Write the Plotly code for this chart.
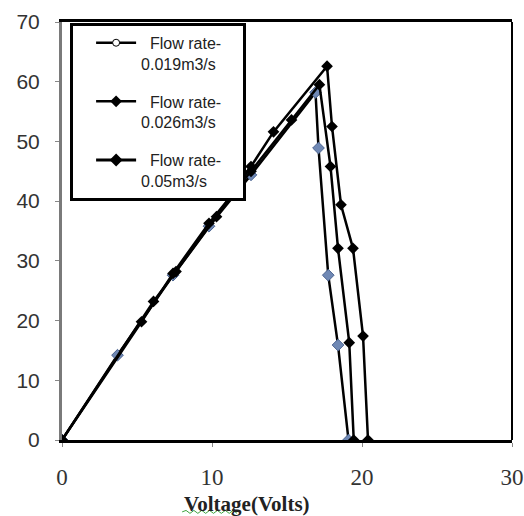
import plotly.graph_objects as go

# Data (Voltage in volts, y-value)
s1_name = "Flow rate-<br>0.019m3/s"
s1_v = [0, 3.7, 7.4, 9.8, 12.6, 16.9, 17.1, 17.75, 18.4, 19.1]
s1_p = [0, 14.2, 27.6, 35.8, 44.4, 58.2, 48.9, 27.6, 15.9, 0]

s2_name = "Flow rate-<br>0.026m3/s"
s2_v = [0, 5.3, 7.4, 9.8, 12.6, 15.3, 17.16, 17.9, 18.4, 19.15, 19.45]
s2_p = [0, 19.8, 27.9, 36.3, 45.0, 53.6, 59.5, 45.8, 32.1, 16.3, 0]

s3_name = "Flow rate-<br>0.05m3/s"
s3_v = [0, 6.1, 7.6, 10.3, 12.6, 14.1, 17.67, 18.0, 18.6, 19.4, 20.07, 20.4]
s3_p = [0, 23.2, 28.2, 37.4, 45.8, 51.6, 62.6, 52.5, 39.4, 32.1, 17.4, 0]

x_ticks = [0, 10, 20, 30]
y_ticks = [0, 10, 20, 30, 40, 50, 60, 70]
x_title = "Voltage(Volts)"

fig = go.Figure()

# data traces (not in legend)
fig.add_trace(go.Scatter(x=s1_v, y=s1_p, mode="lines+markers", showlegend=False,
                         line=dict(color="black", width=2.5),
                         marker=dict(symbol="diamond", size=9, color="#6F88B4",
                                     line=dict(color="#4A6390", width=1))))
fig.add_trace(go.Scatter(x=s2_v, y=s2_p, mode="lines+markers", showlegend=False,
                         line=dict(color="black", width=2.5),
                         marker=dict(symbol="diamond", size=9, color="black")))
fig.add_trace(go.Scatter(x=s3_v, y=s3_p, mode="lines+markers", showlegend=False,
                         line=dict(color="black", width=2.5),
                         marker=dict(symbol="diamond", size=9, color="black")))

# legend-only entries
nb = "\u00a0\u00a0"
pad = "\u00a0" * 5
def lg(name):
    first, second = name.split("<br>")
    return nb + first + "<br>" + second + pad

fig.add_trace(go.Scatter(x=[None], y=[None], mode="lines+markers", name=lg(s1_name),
                         legendgroup="a",
                         line=dict(color="black", width=2.5),
                         marker=dict(symbol="circle", size=7, color="white",
                                     line=dict(color="black", width=1))))
fig.add_trace(go.Scatter(x=[None], y=[None], mode="lines+markers", name=lg(s2_name),
                         legendgroup="b",
                         line=dict(color="black", width=2.5),
                         marker=dict(symbol="diamond", size=9, color="black")))
fig.add_trace(go.Scatter(x=[None], y=[None], mode="lines+markers", name=lg(s3_name),
                         legendgroup="c",
                         line=dict(color="black", width=3),
                         marker=dict(symbol="diamond", size=10, color="black")))

# green spell-check squiggle under "Voltage" (decoration)
x0s, x1s, ys = 0.267, 0.389, -0.172
n = 14
step = (x1s - x0s) / n
amp = 0.0035
path = "M %.4f,%.4f" % (x0s, ys)
for i in range(1, n + 1):
    path += " L %.4f,%.4f" % (x0s + i * step, ys + (amp if i % 2 else -amp))

fig.update_layout(
    width=524, height=516,
    margin=dict(l=62, r=12, t=22, b=76, autoexpand=False),
    paper_bgcolor="white", plot_bgcolor="white",
    showlegend=True,
    legend=dict(x=0.018, y=0.998, xanchor="left", yanchor="top",
                bgcolor="white", bordercolor="black", borderwidth=3,
                font=dict(family="Liberation Sans", size=16, color="#222"),
                traceorder="grouped", tracegroupgap=14, valign="top",
                indentation=18, itemwidth=40),
    xaxis=dict(range=[0, 30], tickvals=x_ticks, showgrid=False, zeroline=False,
               showline=True, linecolor="black", linewidth=3, mirror=True,
               ticks="outside", ticklen=4, tickcolor="#888",
               ticklabelstandoff=10, automargin=False,
               tickfont=dict(family="Liberation Serif", size=23, color="#333")),
    yaxis=dict(range=[0, 70], tickvals=y_ticks, showgrid=False, zeroline=False,
               showline=True, linecolor="#7a7a7a", linewidth=3,
               ticks="outside", ticklen=4, tickcolor="#888",
               ticklabelstandoff=11, automargin=False,
               tickfont=dict(family="Liberation Sans", size=21, color="#333")),
    shapes=[dict(type="line", xref="paper", yref="paper", x0=1, x1=1, y0=0, y1=1,
                 line=dict(color="black", width=2)),
            dict(type="path", xref="paper", yref="paper", path=path,
                 line=dict(color="#3FA33F", width=1))],
    annotations=[dict(text="<b>" + x_title + "</b>", xref="paper", yref="paper",
                      x=0.411, y=-0.152, xanchor="center", yanchor="middle",
                      showarrow=False,
                      font=dict(family="Liberation Serif", size=21, color="#222"))],
)

fig.write_html("out.html",
               config={"displayModeBar": False},
               post_script="document.body.style.margin='0';document.body.style.overflow='hidden';")
